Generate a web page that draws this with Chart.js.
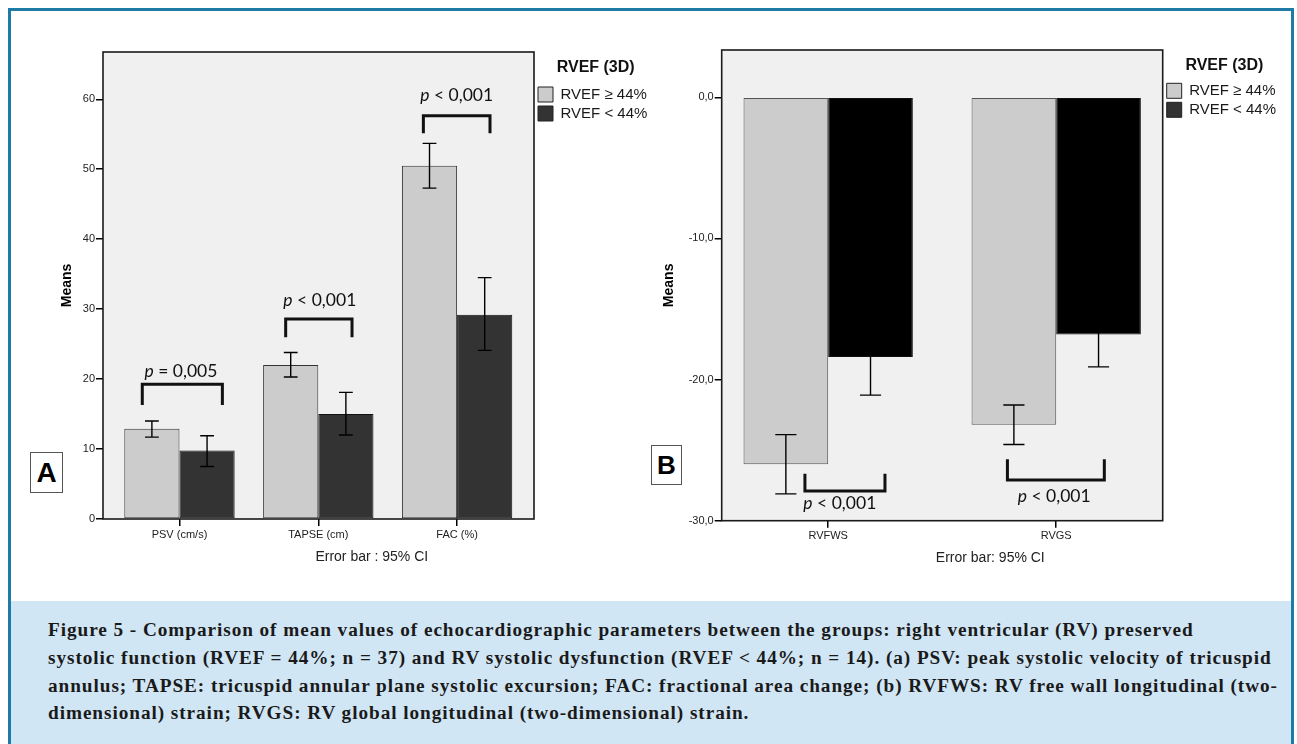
<!DOCTYPE html>
<html>
<head>
<meta charset="utf-8">
<script src="https://cdn.jsdelivr.net/npm/chart.js@4.4.1/dist/chart.umd.min.js"></script>
<style>
  html, body { margin: 0; padding: 0; background: #ffffff; }
  body { width: 1297px; height: 744px; position: relative; overflow: hidden; font-family: "Liberation Sans", Arial, sans-serif; }
  #frame { position: absolute; left: 8px; top: 8px; width: 1286px; height: 800px; border: 3px solid #1e7ba6; box-sizing: border-box; }
  #caption { position: absolute; left: 11px; top: 601px; width: 1280px; height: 143px; background: #d1e6f5; }
  #captext { position: absolute; left: 48px; top: 617px; font-family: "Liberation Serif", "Times New Roman", serif; font-weight: bold; font-size: 18.5px; line-height: 27.8px; color: #1a1a1a; letter-spacing: 0.9px; white-space: nowrap; transform: scaleX(1.04); transform-origin: 0 0; }
  canvas { position: absolute; top: 0; }
  #cA { left: 0px; }
  #cB { left: 640px; }
  .tag { position: absolute; background: #fff; border: 1px solid #555; box-sizing: border-box; font-family: "Liberation Sans", Arial, sans-serif; font-weight: bold; color: #000; display: flex; align-items: center; justify-content: center; }
  #tagA { left: 30px; top: 452px; width: 33px; height: 41px; font-size: 28px; }
  #tagB { left: 651px; top: 445px; width: 31px; height: 40px; font-size: 26px; }
</style>
</head>
<body>
<div id="frame"></div>
<div id="caption"></div>
<div id="captext">
  <div>Figure 5 - Comparison of mean values of echocardiographic parameters between the groups: right ventricular (RV) preserved</div>
  <div>systolic function (RVEF = 44%; n = 37) and RV systolic dysfunction (RVEF &lt; 44%; n = 14). (a) PSV: peak systolic velocity of tricuspid</div>
  <div>annulus; TAPSE: tricuspid annular plane systolic excursion; FAC: fractional area change; (b) RVFWS: RV free wall longitudinal (two-</div>
  <div>dimensional) strain; RVGS: RV global longitudinal (two-dimensional) strain.</div>
</div>
<canvas id="cA" width="660" height="590"></canvas>
<canvas id="cB" width="657" height="590"></canvas>
<div class="tag" id="tagA">A</div>
<div class="tag" id="tagB">B</div>
<script>
// ---------- DATA ----------
const seriesNames = ['RVEF \u2265 44%', 'RVEF < 44%'];
const legendTitle = 'RVEF (3D)';

// Panel A
const categoriesA = ['PSV (cm/s)', 'TAPSE (cm)', 'FAC (%)'];
const preservedMeansA = [12.9, 22.0, 50.5];
const preservedLowA = [11.7, 20.3, 47.3];
const preservedHighA = [14.0, 23.8, 53.7];
const dysfunctionMeansA = [9.8, 15.0, 29.2];
const dysfunctionLowA = [7.5, 12.0, 24.1];
const dysfunctionHighA = [11.9, 18.1, 34.5];
const pLabelsA = ['p = 0,005', 'p < 0,001', 'p < 0,001'];
const yTicksA = [0, 10, 20, 30, 40, 50, 60];

// Panel B
const categoriesB = ['RVFWS', 'RVGS'];
const preservedMeansB = [-26.0, -23.2];
const preservedLowB = [-28.1, -24.6];
const preservedHighB = [-23.9, -21.8];
const dysfunctionMeansB = [-18.4, -16.8];
const dysfunctionLowB = [-21.1, -19.1];
const dysfunctionHighB = [-15.7, -14.6];
const pLabelsB = ['p < 0,001', 'p < 0,001'];
const yTicksB = [-30, -20, -10, 0];

// ---------- ANNOTATION LAYOUT (data coordinates) ----------
const bracketsA = [
  { x0: -0.268, x1: 0.309, y: 19.26, yEnd: 16.30, tx: 0.01, ty: 20.30 },
  { x0: 0.765, x1: 1.243, y: 28.59, yEnd: 25.98, tx: 1.011, ty: 30.45 },
  { x0: 1.757, x1: 2.237, y: 57.66, yEnd: 55.14, tx: 1.997, ty: 59.71 }
];
const bracketsB = [
  { x0: -0.102, x1: 0.249, y: -27.90, yEnd: -26.67, tx: 0.051, ty: -29.19 },
  { x0: 0.786, x1: 1.211, y: -27.12, yEnd: -25.65, tx: 0.991, ty: -28.70 }
];

Chart.defaults.font.family = '"Liberation Sans", Arial, sans-serif';

const LEG_FONT = 15, LEG_BOX = 15, LEG_PAD = 4;
const measureCtx = document.createElement('canvas').getContext('2d');
measureCtx.font = LEG_FONT + 'px "Liberation Sans", Arial, sans-serif';
const legendTextW = Math.max(...seriesNames.map(s => measureCtx.measureText(s).width));
const legendW = LEG_PAD + LEG_BOX + LEG_FONT / 2 + legendTextW + 10;

function drawPText(ctx, text, x, y, size) {
  const first = text.slice(0, 1);
  const rest = text.slice(1);
  ctx.font = 'italic ' + size + 'px Lato';
  const w1 = ctx.measureText(first).width;
  ctx.font = size + 'px Lato';
  const w2 = ctx.measureText(rest).width;
  const start = x - (w1 + w2) / 2;
  ctx.textAlign = 'left';
  ctx.textBaseline = 'alphabetic';
  ctx.fillStyle = '#111';
  ctx.font = 'italic ' + size + 'px Lato';
  ctx.fillText(first, start, y);
  ctx.font = size + 'px Lato';
  ctx.fillText(rest, start + w1, y);
}

const decorPlugin = {
  id: 'decor',
  beforeDraw(chart) {
    const { ctx, chartArea: a } = chart;
    ctx.save();
    ctx.fillStyle = '#f0f0f0';
    ctx.fillRect(a.left, a.top, a.right - a.left, a.bottom - a.top);
    ctx.restore();
  },
  afterDatasetsDraw(chart) {
    const { ctx, chartArea: a } = chart;
    const o = chart.options.plugins.decor;
    const xs = chart.scales.x, ys = chart.scales.y;
    ctx.save();
    chart.data.datasets.forEach((ds, d) => {
      const meta = chart.getDatasetMeta(d);
      meta.data.forEach((el, j) => {
        const x = el.x;
        const cap = el.width * o.capFrac;
        const y1 = ys.getPixelForValue(ds.errLow[j]);
        const y2 = ys.getPixelForValue(ds.errHigh[j]);
        ctx.strokeStyle = '#000';
        ctx.lineWidth = 1.4;
        ctx.beginPath();
        ctx.moveTo(x, y1); ctx.lineTo(x, y2);
        ctx.moveTo(x - cap / 2, y1); ctx.lineTo(x + cap / 2, y1);
        ctx.moveTo(x - cap / 2, y2); ctx.lineTo(x + cap / 2, y2);
        ctx.stroke();
      });
    });
    ctx.strokeStyle = '#1a1a1a';
    ctx.lineWidth = 1.6;
    ctx.strokeRect(a.left, a.top, a.right - a.left, a.bottom - a.top);
    o.brackets.forEach((b, i) => {
      const px0 = xs.getPixelForValue(b.x0), px1 = xs.getPixelForValue(b.x1);
      const py = ys.getPixelForValue(b.y), pe = ys.getPixelForValue(b.yEnd);
      ctx.strokeStyle = '#111';
      ctx.lineWidth = 3;
      ctx.lineJoin = 'miter';
      ctx.beginPath();
      ctx.moveTo(px0, pe); ctx.lineTo(px0, py); ctx.lineTo(px1, py); ctx.lineTo(px1, pe);
      ctx.stroke();
      drawPText(ctx, o.pLabels[i], xs.getPixelForValue(b.tx), ys.getPixelForValue(b.ty), 17.5);
    });
    ctx.fillStyle = '#222';
    ctx.font = '14px "Liberation Sans", Arial, sans-serif';
    ctx.textAlign = 'center';
    ctx.textBaseline = 'middle';
    ctx.fillText(o.footText, o.footX, o.footY);
    ctx.restore();
  }
};

function pointsOf(values) { return values.map((v, i) => ({ x: i, y: v })); }

function buildChart(id, p) {
  const canvas = document.getElementById(id);
  const padR = canvas.width - p.plotRight - legendW;
  return new Chart(canvas, {
    type: 'bar',
    data: {
      datasets: [
        { label: seriesNames[0], data: pointsOf(p.m1), errLow: p.l1, errHigh: p.h1,
          backgroundColor: '#cccccc', borderColor: p.border1, borderWidth: 1, borderSkipped: false },
        { label: seriesNames[1], data: pointsOf(p.m2), errLow: p.l2, errHigh: p.h2,
          backgroundColor: p.fill2, borderColor: '#111111', borderWidth: 1, borderSkipped: false }
      ]
    },
    options: {
      responsive: false,
      animation: false,
      devicePixelRatio: 1,
      categoryPercentage: p.catPct,
      barPercentage: 1,
      layout: { padding: { left: p.padL, right: padR, top: p.padT, bottom: 0 } },
      plugins: {
        tooltip: { enabled: false },
        legend: {
          position: 'right',
          align: 'start',
          title: { display: true, text: legendTitle, color: '#111', font: { size: 16, weight: 'bold' }, padding: p.titlePad },
          labels: {
            boxWidth: LEG_BOX, boxHeight: LEG_BOX, padding: LEG_PAD, color: '#1a1a1a', font: { size: LEG_FONT },
            generateLabels: (chart) => {
              const items = Chart.defaults.plugins.legend.labels.generateLabels(chart);
              items[0].fillStyle = '#cccccc';
              items[1].fillStyle = '#333333';
              items.forEach(it => { it.strokeStyle = '#222'; it.lineWidth = 1; });
              return items;
            }
          }
        },
        decor: { brackets: p.brackets, pLabels: p.pLabels, capFrac: 0.25, footText: p.footText, footX: p.footX, footY: p.footY }
      },
      scales: {
        x: {
          type: 'linear',
          offset: false,
          min: p.xMin, max: p.xMax,
          afterBuildTicks: s => { s.ticks = p.cats.map((c, i) => ({ value: i })); },
          afterFit: s => { s.height = p.xH; },
          ticks: { callback: v => p.cats[v], font: { size: 11 }, color: '#222', padding: p.xTickPad, autoSkip: false, maxRotation: 0 },
          grid: { offset: false, drawOnChartArea: false, drawTicks: true, tickLength: 7, color: '#000', lineWidth: 1.5 },
          border: { display: false }
        },
        y: {
          min: p.yMin, max: p.yMax,
          afterBuildTicks: s => { s.ticks = p.yTicks.map(v => ({ value: v })); },
          afterFit: s => { s.width = p.yW; },
          ticks: { callback: p.fmt, font: { size: 11 }, color: '#222', padding: 1 },
          grid: { drawOnChartArea: false, drawTicks: true, tickLength: 7, color: '#000', lineWidth: 1.5 },
          border: { display: false },
          title: { display: true, text: 'Means', color: '#000', font: { size: 14, weight: 'bold' }, padding: { top: p.yTitlePad, bottom: 0 } }
        }
      }
    },
    plugins: [decorPlugin]
  });
}

buildChart('cA', {
  cats: categoriesA, m1: preservedMeansA, l1: preservedLowA, h1: preservedHighA,
  m2: dysfunctionMeansA, l2: dysfunctionLowA, h2: dysfunctionHighA,
  fill2: '#333333', border1: '#333333', catPct: 0.795,
  padL: 55, plotRight: 534, padT: 52, titlePad: { top: 7.4, bottom: 4.4 },
  xMin: -0.551, xMax: 2.554, xH: 71, xTickPad: 2,
  yMin: 0, yMax: 66.76, yTicks: yTicksA, yW: 48, yTitlePad: 3.6,
  fmt: v => String(v),
  brackets: bracketsA, pLabels: pLabelsA,
  footText: 'Error bar : 95% CI', footX: 371.8, footY: 557
});

buildChart('cB', {
  cats: categoriesB, m1: preservedMeansB, l1: preservedLowB, h1: preservedHighB,
  m2: dysfunctionMeansB, l2: dysfunctionLowB, h2: dysfunctionHighB,
  fill2: '#000000', border1: '#555555', catPct: 0.7425,
  padL: 15, plotRight: 522.7, padT: 50, titlePad: { top: 7.1, bottom: 3 },
  xMin: -0.467, xMax: 1.467, xH: 69.3, xTickPad: 1.5,
  yMin: -30, yMax: 3.35, yTicks: yTicksB, yW: 66.7, yTitlePad: 6.1,
  fmt: v => v.toFixed(1).replace('.', ','),
  brackets: bracketsB, pLabels: pLabelsB,
  footText: 'Error bar: 95% CI', footX: 350.3, footY: 557.7
});
</script>
</body>
</html>
